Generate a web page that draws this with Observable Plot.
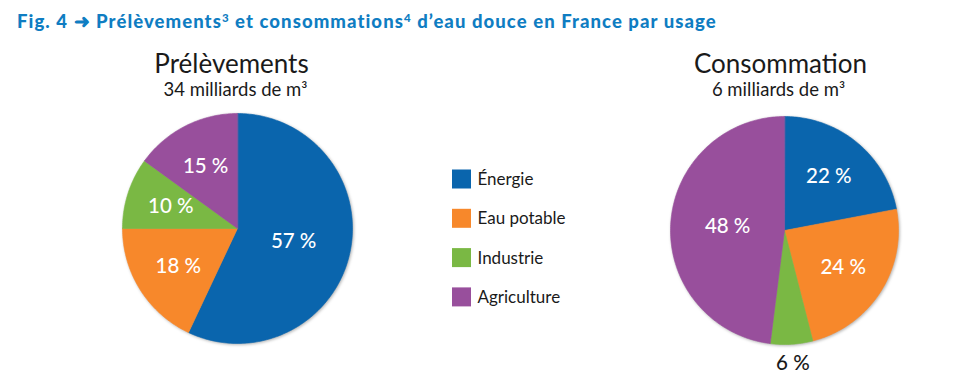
<!DOCTYPE html>
<html><head><meta charset="utf-8">
<script src="https://cdn.jsdelivr.net/npm/d3@7"></script>
<script src="https://cdn.jsdelivr.net/npm/@observablehq/plot@0.6"></script>
<style>
body{margin:0;background:#fff;}
#title{font-family:Lato,sans-serif;font-weight:900;font-size:18.5px;color:#0f7dc2;padding:11px 0 0 17px;height:29px;line-height:20px;white-space:nowrap;box-sizing:content-box;}
#title span{display:inline-block;}
#title sup{font-size:0.62em;vertical-align:0.5em;line-height:0;}
#chart svg{display:block;}
</style></head><body>
<div id="title"><span id="tt">Fig. 4 ➜ Prélèvements<sup>3</sup> et consommations<sup>4</sup> d’eau douce en France par usage</span></div>
<div id="chart"></div>
<script>
// ---- data ----
const categories = ["Énergie", "Eau potable", "Industrie", "Agriculture"];
const prelevements = [57, 18, 10, 15];
const consommation = [22, 24, 6, 48];
const chartTitles = ["Prélèvements", "Consommation"];
const chartSubtitles = ["34 milliards de m³", "6 milliards de m³"];
const colors = ["#0a65ad", "#f7882b", "#7ab844", "#984f9c"];

// ---- layout ----
const pieLayout = [
  {cx: 237, cy: 228, r: 115, titleX: 231, subX: 235},
  {cx: 784, cy: 230, r: 114, titleX: 780, subX: 778}
];
const titleY = 72, subY = 95;
const legendX = 452, legendY0 = 179, legendStep = 39.3, legendSize = 19;

const series = [prelevements, consommation];
const slicePts = [], labels = [];
series.forEach((vals, i) => {
  const L = pieLayout[i];
  const total = d3.sum(vals);
  let acc = 0;
  vals.forEach((v, j) => {
    const a0 = acc / total * 2 * Math.PI, a1 = (acc + v) / total * 2 * Math.PI;
    acc += v;
    const key = i + "-" + j, cat = categories[j];
    slicePts.push({key, cat, x: L.cx, y: L.cy});
    const n = Math.max(2, Math.ceil((a1 - a0) / (Math.PI / 180)));
    for (let k = 0; k <= n; k++) {
      const a = a0 + (a1 - a0) * k / n;
      slicePts.push({key, cat, x: L.cx + L.r * Math.sin(a), y: L.cy - L.r * Math.cos(a)});
    }
    const am = (a0 + a1) / 2;
    const f = v < 8 ? 1.17 : v > 40 ? 0.5 : 0.61;
    labels.push({x: L.cx + L.r * f * Math.sin(am), y: L.cy - L.r * f * Math.cos(am), text: v + " %", outside: f > 1});
  });
});
const titles = chartTitles.map((t, i) => ({x: pieLayout[i].titleX, y: titleY, text: t}));
const subtitles = chartSubtitles.map((t, i) => ({x: pieLayout[i].subX, y: subY, text: t}));
const legend = categories.map((c, j) => ({cat: c, x1: legendX, x2: legendX + legendSize,
  y1: legendY0 + j * legendStep - legendSize / 2, y2: legendY0 + j * legendStep + legendSize / 2,
  tx: legendX + legendSize + 6, ty: legendY0 + j * legendStep}));

const plot = Plot.plot({
  width: 953, height: 345, margin: 0,
  x: {domain: [0, 953], range: [0, 953], axis: null},
  y: {domain: [40, 385], range: [0, 345], axis: null},
  color: {domain: categories, range: colors},
  marks: [
    Plot.line(slicePts, {x: "x", y: "y", z: "key", fill: "cat", stroke: "cat", strokeWidth: 0.6,
      curve: "linear-closed", imageFilter: "drop-shadow(1.5px 1.5px 1.5px rgba(0,0,0,0.3))"}),
    Plot.text(labels.filter(d => !d.outside), {x: "x", y: "y", text: "text", fill: "white",
      fontSize: 20.5, fontFamily: "Lato", fontWeight: 500}),
    Plot.text(labels.filter(d => d.outside), {x: "x", y: "y", text: "text", fill: "#1a1a1a",
      fontSize: 20.5, fontFamily: "Lato", fontWeight: 500}),
    Plot.text(titles, {x: "x", y: "y", text: "text", fill: "#1a1a1a", fontSize: 26,
      fontFamily: "Lato", lineAnchor: "bottom"}),
    Plot.text(subtitles, {x: "x", y: "y", text: "text", fill: "#1a1a1a", fontSize: 18.5,
      fontFamily: "Lato", lineAnchor: "bottom"}),
    Plot.rect(legend, {x1: "x1", x2: "x2", y1: "y1", y2: "y2", fill: "cat"}),
    Plot.text(legend, {x: "tx", y: "ty", text: "cat", fill: "#1a1a1a", fontSize: 17,
      fontFamily: "Lato", textAnchor: "start"})
  ]
});
document.getElementById("chart").append(plot);

// fit title width to the reference (~700px)
const tt = document.getElementById("tt");
const w = tt.getBoundingClientRect().width;
const nChars = tt.textContent.length;
tt.style.letterSpacing = ((700 - w) / nChars) + "px";
</script>
</body></html>
